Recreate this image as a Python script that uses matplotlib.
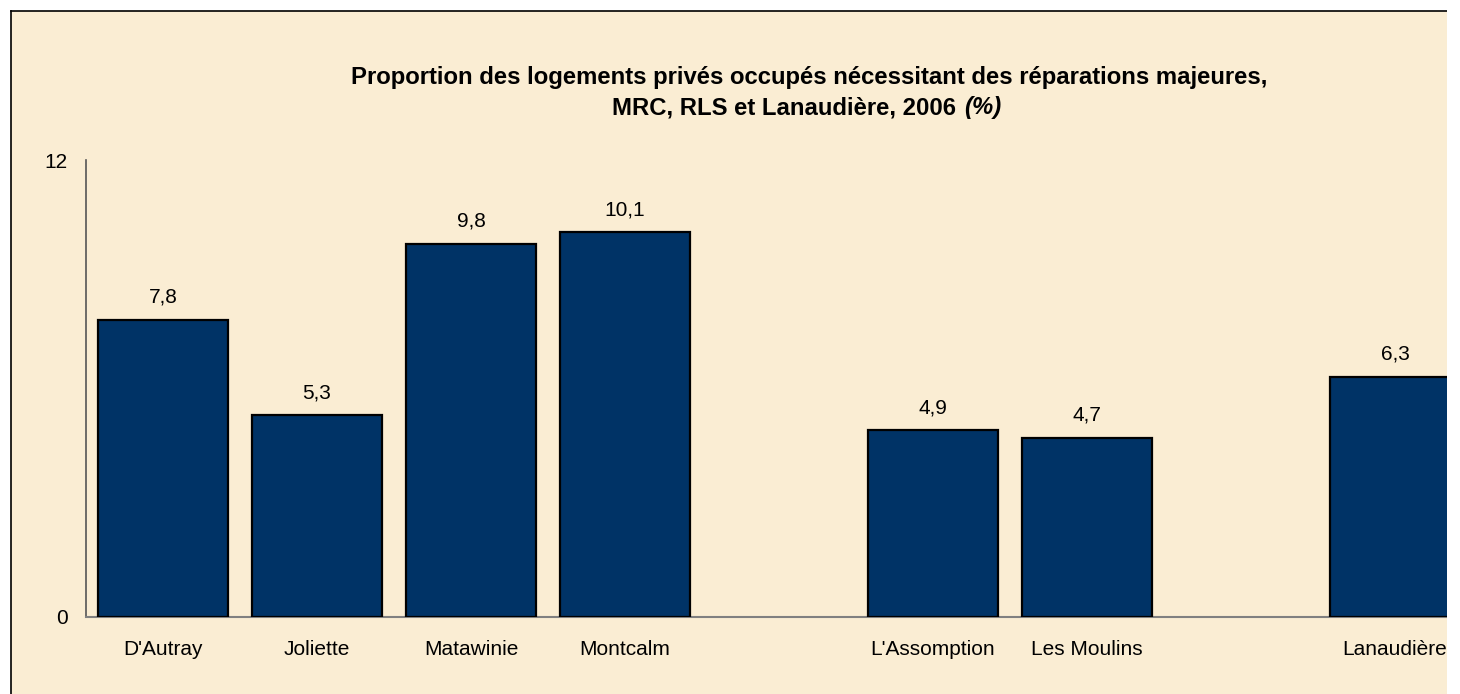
import numpy as np
import matplotlib
matplotlib.use("Agg")
from matplotlib import pyplot as plt
from matplotlib.patches import Rectangle
from matplotlib.lines import Line2D

# data
mrc_names = ["D'Autray", "Joliette", "Matawinie", "Montcalm"]
mrc_values = [7.8, 5.3, 9.8, 10.1]
rls_names = ["L'Assomption", "Les Moulins"]
rls_values = [4.9, 4.7]
region_names = ["Lanaudière"]
region_values = [6.3]
y_ticks = [0, 12]

plt.rcParams['font.family'] = ['Liberation Sans', 'DejaVu Sans']

W, H = 1460, 694
fig = plt.figure(figsize=(W / 100, H / 100), dpi=100)
fig.patch.set_facecolor('white')

# parchment panel with a black frame on top and left
fig.add_artist(Rectangle((11 / W, 0), (1447 - 11) / W, (H - 11) / H,
                         transform=fig.transFigure, facecolor='#FAEDD3',
                         edgecolor='none', zorder=-5))
fig.add_artist(Line2D([11 / W, 1447 / W], [(H - 11) / H] * 2,
                      transform=fig.transFigure, color='black', lw=1.2))
fig.add_artist(Line2D([11 / W, 11 / W], [0, (H - 11) / H],
                      transform=fig.transFigure, color='black', lw=1.2))

# slot positions, one empty slot between groups
names, values, xpos = [], [], []
slot = 0
for grp_names, grp_values in [(mrc_names, mrc_values), (rls_names, rls_values),
                              (region_names, region_values)]:
  for n, v in zip(grp_names, grp_values):
    names.append(n)
    values.append(v)
    xpos.append(slot)
    slot += 1
  slot += 1

ax = fig.add_axes([86 / W, (H - 617) / H, 1386 / W, (617 - 160) / H])
ax.set_facecolor('none')
bars = ax.bar(xpos, values, width=130 / 154, color='#003366',
              edgecolor='black', linewidth=1.6, zorder=3)

for x, v in zip(xpos, values):
  ax.annotate(f"{v:.1f}".replace('.', ','), (x, v), xytext=(0, 12.3),
              textcoords='offset points', ha='center', va='baseline',
              fontsize=15)

ax.set_xlim(-0.5, 8.5)
ax.set_ylim(0, 12)
ax.set_yticks(y_ticks)
ax.set_yticklabels([str(t) for t in y_ticks], fontsize=15)
ax.set_xticks(xpos)
ax.set_xticklabels(names, fontsize=15)
ax.tick_params(axis='y', length=0, pad=13)
ax.tick_params(axis='x', length=0, pad=16.5)
for s in ['top', 'right']:
  ax.spines[s].set_visible(False)
ax.spines['left'].set_color('#555555')
ax.spines['bottom'].set_color('#808080')
ax.spines['left'].set_linewidth(1.2)
ax.spines['bottom'].set_linewidth(1.5)

# title, second line ends with a bold italic unit
fig.text(809 / W, 1 - 84 / H,
         "Proportion des logements privés occupés nécessitant des réparations majeures,",
         ha='center', va='baseline', fontsize=17.2, fontweight='bold')
fig.text(956 / W, 1 - 114 / H, "MRC, RLS et Lanaudière, 2006",
         ha='right', va='baseline', fontsize=17.2, fontweight='bold')
fig.text(964 / W, 1 - 114 / H, "(%)",
         ha='left', va='baseline', fontsize=17.2, fontweight='bold', style='italic')

# white strip on the right, where the reference image is cut off
fig.add_artist(Rectangle((1447 / W, 0), 13 / W, 1, transform=fig.transFigure,
                         facecolor='white', edgecolor='none', zorder=20))

fig.savefig('out.png', dpi=100)
